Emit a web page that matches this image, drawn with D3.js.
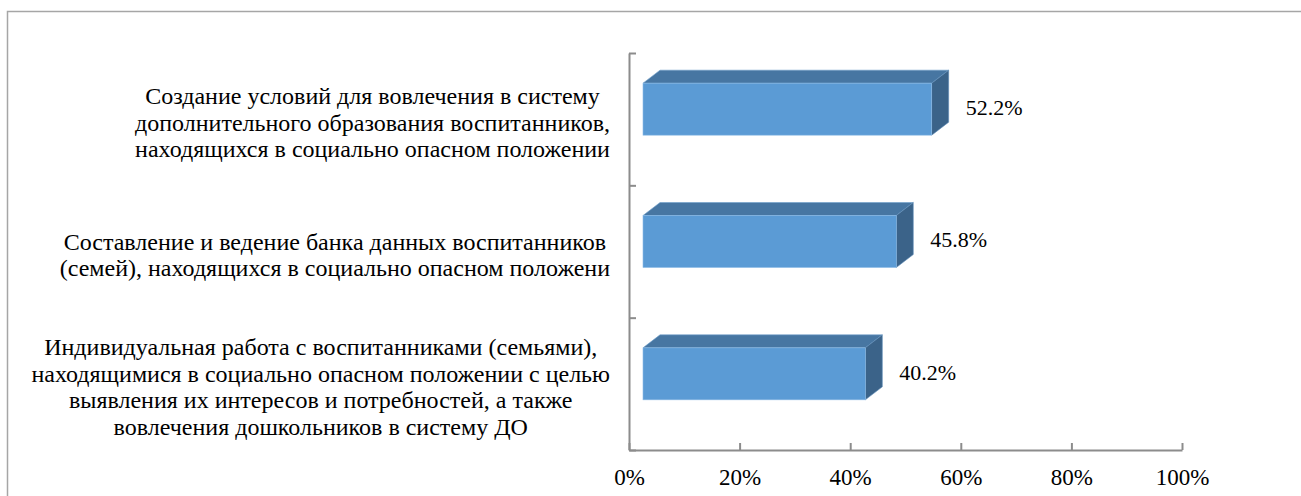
<!DOCTYPE html>
<html>
<head>
<meta charset="utf-8">
<script src="https://cdn.jsdelivr.net/npm/d3@7"></script>
<style>
  body { margin: 0; background: #fff; }
</style>
</head>
<body>
<svg width="1301" height="496"></svg>
<script>
// data, top to bottom
const categories = [
  ["Создание условий для вовлечения в систему",
   "дополнительного образования воспитанников,",
   "находящихся в социально опасном положении"],
  ["Составление и ведение банка данных воспитанников",
   "(семей), находящихся в социально опасном положени"],
  ["Индивидуальная работа с воспитанниками (семьями),",
   "находящимися в социально опасном положении с целью",
   "выявления их интересов и потребностей, а также",
   "вовлечения дошкольников в систему ДО"]
];
const values = [0.522, 0.458, 0.402];
const xTicks = [0, 0.2, 0.4, 0.6, 0.8, 1];

const serif = '"Times New Roman", Tinos, "Liberation Serif", "Noto Serif", "DejaVu Serif", serif';
let svg = d3.select("svg");
let width = 1301;
let height = 496;

// frame
svg.append("path")
  .attr("d", `M7.5,${height} V11.5 H${width}`)
  .attr("fill", "none")
  .attr("stroke", "#a6a6a6")
  .attr("stroke-width", 1.5);

let plotLeft = 629, plotRight = 1182, plotTop = 53, plotBottom = 450;

let xScale = d3.scaleLinear().domain([0, 1]).range([plotLeft, plotRight]);
let yScale = d3.scaleBand().domain(d3.range(categories.length)).range([plotTop, plotBottom]);
let yEdge = d3.scaleLinear().domain([0, categories.length]).range([plotTop, plotBottom]);

// axes
let xAxis = d3.axisBottom(xScale)
  .tickValues(xTicks)
  .tickFormat(d3.format(".0%"))
  .tickSizeInner(-7)
  .tickSizeOuter(0)
  .tickPadding(19);
let gx = svg.append("g")
  .attr("transform", `translate(0, ${plotBottom})`)
  .call(xAxis)
  .attr("font-family", serif)
  .attr("font-size", 23);
gx.selectAll("text").attr("fill", "#000");

let yAxis = d3.axisRight(yEdge)
  .tickValues(d3.range(categories.length + 1))
  .tickFormat("")
  .tickSizeInner(7)
  .tickSizeOuter(0);
svg.append("g")
  .attr("transform", `translate(${plotLeft}, 0)`)
  .call(yAxis);

svg.selectAll(".domain, .tick line")
  .attr("stroke", "#8c8c8c")
  .attr("stroke-width", 2);

// 3D bars
let offX = 14, offY = -10;   // front face shift
let dx = 17, dy = 13;        // depth
let barH = 52;
let x0 = xScale(0) + offX;

let bars = svg.selectAll(".bar")
  .data(values)
  .enter()
  .append("g")
  .attr("class", "bar");

bars.each(function (v, i) {
  let g = d3.select(this);
  let cy = yScale(i) + yScale.bandwidth() / 2 + offY;
  let yt = cy - barH / 2, yb = cy + barH / 2;
  let xe = x0 + xScale(v) - xScale(0);
  g.append("polygon")
    .attr("points", [[x0, yt], [x0 + dx, yt - dy], [xe + dx, yt - dy], [xe, yt]].join(" "))
    .attr("fill", "#4776a2")
    .attr("stroke", "#6f9fcb")
    .attr("stroke-width", 0.6);
  g.append("polygon")
    .attr("points", [[xe, yt], [xe + dx, yt - dy], [xe + dx, yb - dy], [xe, yb]].join(" "))
    .attr("fill", "#3b6389")
    .attr("stroke", "#5f8db8")
    .attr("stroke-width", 0.6);
  g.append("rect")
    .attr("x", x0)
    .attr("y", yt)
    .attr("width", xe - x0)
    .attr("height", barH)
    .attr("fill", "#5b9bd5")
    .attr("stroke", "#8cbbe6")
    .attr("stroke-width", 0.6);
  g.append("text")
    .attr("x", xe + dx + 17)
    .attr("y", cy - 2)
    .attr("dy", "0.35em")
    .attr("font-family", serif)
    .attr("font-size", 22)
    .text(d3.format(".1%")(v));
});

// category labels
let lineH = 26.5;
let labelRight = 610;
categories.forEach((lines, i) => {
  let cy = yScale(i) + yScale.bandwidth() / 2 + 3;
  let t = svg.append("text")
    .attr("text-anchor", "middle")
    .attr("font-family", serif)
    .attr("font-size", 24);
  let spans = t.selectAll("tspan")
    .data(lines)
    .enter()
    .append("tspan")
    .attr("y", (d, k) => cy + (k - (lines.length - 1) / 2) * lineH)
    .attr("dy", "0.35em")
    .text(d => d);
  let maxW = d3.max(spans.nodes(), n => n.getComputedTextLength());
  spans.attr("x", labelRight - maxW / 2);
});
</script>
</body>
</html>
